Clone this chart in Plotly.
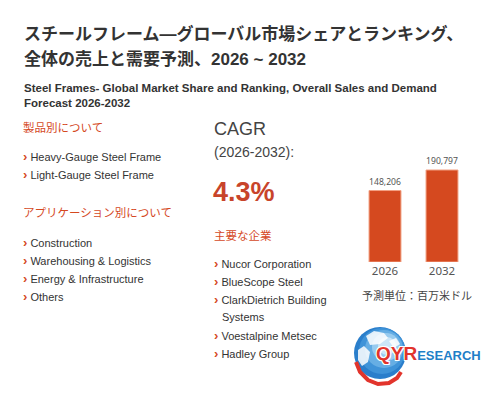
import plotly.graph_objects as go

# ページの余白 (body margin 8px) を考慮
OFF = 8
W, H = 503 - OFF, 400 - OFF

# データ
years = ["2026", "2032"]
sales = [148206, 190797]
cagr = "4.3%"
title_jp = ["スチールフレーム—グローバル市場シェアとランキング、", "全体の売上と需要予測、2026 ~ 2032"]
title_en = ["Steel Frames- Global Market Share and Ranking, Overall Sales and Demand", "Forecast 2026-2032"]
types = ["Heavy-Gauge Steel Frame", "Light-Gauge Steel Frame"]
apps = ["Construction", "Warehousing & Logistics", "Energy & Infrastructure", "Others"]
companies = ["Nucor Corporation", "BlueScope Steel", "ClarkDietrich Building<br>Systems",
             "Voestalpine Metsec", "Hadley Group"]

ORANGE = "#D5491F"
TXT = "#333333"
FONT = "Liberation Sans, Noto Sans CJK JP, sans-serif"


def px(x):
    return (x - OFF) / W


def py(y):
    return 1 - (y - OFF) / H


annots = []


def txt(x, y, s, size, color=TXT, anchor="left", bold=False, family=FONT):
    if bold:
        s = "<b>" + s + "</b>"
    annots.append(dict(x=px(x), y=py(y), xref="paper", yref="paper", text=s, showarrow=False,
                       xanchor=anchor, yanchor="middle", align="left",
                       font=dict(size=size, color=color, family=family)))


def bullet(s):
    return "<span style='color:%s;font-size:13px'><b>›</b></span> %s" % (ORANGE, s)


# タイトル
txt(22, 34, title_jp[0], 17, "#333", bold=True)
txt(22, 59, title_jp[1], 17, "#333", bold=True)
txt(22, 88, title_en[0], 11.5, "#333", bold=True)
txt(22, 103, title_en[1], 11.5, "#333", bold=True)

# 左の列
txt(21, 127, "製品別について", 11.5, ORANGE)
for i, t in enumerate(types):
    txt(21, 156 + i * 18, bullet(t), 11)
txt(21, 213, "アプリケーション別について", 11.5, ORANGE)
for i, t in enumerate(apps):
    txt(21, 242 + i * 18, bullet(t), 11)

# 中央の列
txt(212, 129, "CAGR", 18, "#444")
txt(212, 152, "(2026-2032):", 14, "#444")
txt(211, 192, cagr, 27, "#C8442A", bold=True)
txt(212, 235, "主要な企業", 11.5, ORANGE)
yy = 263
for c in companies:
    if "<br>" in c:
        a, b = c.split("<br>")
        txt(212, yy, bullet(a), 11)
        txt(220, yy + 18, b, 11)
        yy += 36
    else:
        txt(212, yy, bullet(c), 11)
        yy += 18

# 単位
txt(417, 295, "予測単位：百万米ドル", 11, "#444", anchor="center",
    family="Noto Sans CJK JP, sans-serif")

fig = go.Figure(go.Bar(
    x=years, y=sales,
    text=[f"{v:,}" for v in sales],
    textposition="outside",
    cliponaxis=False,
    textfont=dict(size=13, color="#555", family="Noto Sans, sans-serif"),
    marker=dict(color=ORANGE, line=dict(color="#F2A183", width=1)),
    width=0.56,
))

# ロゴ (QYResearch) 地球 = 同心円でグラデーション風に
cx, cy, r = 380, 353, 26
globe = [(0, 0, 26, "#2A7ECB"), (2, -2, 23, "#3F93D8"), (4, -4, 19, "#66AEE4"),
         (6, -6, 14, "#98CBEF"), (7, -7, 9, "#CBE6F8")]
shapes = []
for dx, dy, rr, col in globe:
    shapes.append(dict(type="circle", xref="paper", yref="paper",
                       x0=px(cx + dx - rr), x1=px(cx + dx + rr),
                       y0=py(cy + dy + rr), y1=py(cy + dy - rr),
                       fillcolor=col, line=dict(width=0)))
# 大陸っぽい白い形
conts = [
    [(366, 336), (374, 331), (384, 333), (388, 338), (380, 344), (370, 345)],
    [(358, 350), (364, 346), (370, 352), (368, 362), (362, 366), (358, 360)],
    [(389, 341), (396, 338), (400, 344), (394, 348)],
]
for poly in conts:
    p = "M " + " L ".join("%f,%f" % (px(a), py(b)) for a, b in poly) + " Z"
    shapes.append(dict(type="path", xref="paper", yref="paper", path=p,
                       fillcolor="white", opacity=0.85, line=dict(width=0)))
# 赤い弧
arc = [(356, 362), (360, 372), (368, 380), (378, 384), (389, 383), (397, 378), (401, 372)]
p = "M " + " L ".join("%f,%f" % (px(a), py(b)) for a, b in arc)
shapes.append(dict(type="path", xref="paper", yref="paper", path=p,
                   line=dict(color="#E2342C", width=4)))

annots.append(dict(
    x=px(374), y=py(366), xref="paper", yref="paper", showarrow=False,
    xanchor="left", yanchor="bottom",
    text="<b><span style='color:#E2342C;font-size:19px'>QYR</span>"
         "<span style='color:#1F7FC8;font-size:13px'>ESEARCH</span></b>",
    font=dict(family="Liberation Sans, sans-serif", size=13,
              shadow="1px 1px 0 white, -1px -1px 0 white, 1px -1px 0 white, -1px 1px 0 white"),
))

fig.update_layout(
    width=W, height=H,
    margin=dict(l=0, r=0, t=0, b=0),
    paper_bgcolor="white", plot_bgcolor="white",
    showlegend=False,
    xaxis=dict(domain=[px(356.5), px(470.5)], type="category", showline=False,
               showgrid=False, ticks="",
               tickfont=dict(size=11.5, color="#555", family="Noto Sans, sans-serif")),
    yaxis=dict(domain=[py(262), py(262 - 92 * 200000 / 190797)], range=[0, 200000],
               visible=False),
    annotations=annots,
    shapes=shapes,
)

fig.write_html("out.html")
